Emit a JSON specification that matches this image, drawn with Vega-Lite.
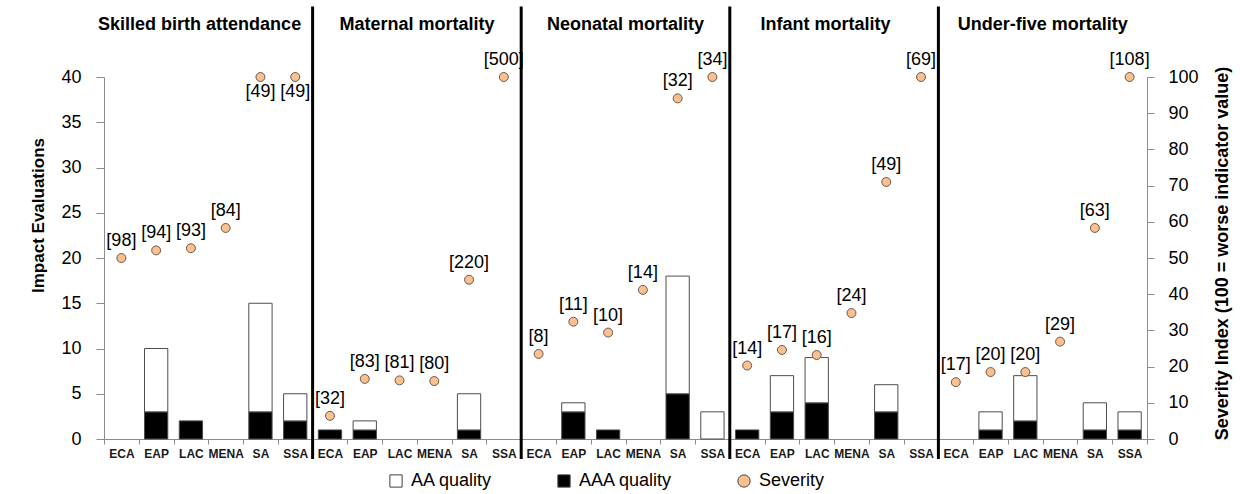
{
  "$schema": "https://vega.github.io/schema/vega-lite/v6.json",
  "width": 1043,
  "height": 362,
  "autosize": {"type": "none"},
  "padding": {"left": 104, "top": 77, "right": 93, "bottom": 55},
  "background": "white",
  "config": {
    "view": {"stroke": null},
    "font": "Liberation Sans",
    "axis": {"grid": false, "labelOverlap": false},
    "legend": {"labelFont": "Liberation Sans"}
  },
  "data": {
    "values": [
      {"ind": "Skilled birth attendance", "region": "ECA", "aaa": 0, "aa": 0, "sev": 50.0, "lab": "[98]"},
      {"ind": "Skilled birth attendance", "region": "EAP", "aaa": 3, "aa": 7, "sev": 52.1, "lab": "[94]"},
      {"ind": "Skilled birth attendance", "region": "LAC", "aaa": 2, "aa": 0, "sev": 52.7, "lab": "[93]"},
      {"ind": "Skilled birth attendance", "region": "MENA", "aaa": 0, "aa": 0, "sev": 58.3, "lab": "[84]"},
      {"ind": "Skilled birth attendance", "region": "SA", "aaa": 3, "aa": 12, "sev": 100, "lab": "[49]"},
      {"ind": "Skilled birth attendance", "region": "SSA", "aaa": 2, "aa": 3, "sev": 100, "lab": "[49]"},
      {"ind": "Maternal mortality", "region": "ECA", "aaa": 1, "aa": 0, "sev": 6.4, "lab": "[32]"},
      {"ind": "Maternal mortality", "region": "EAP", "aaa": 1, "aa": 1, "sev": 16.6, "lab": "[83]"},
      {"ind": "Maternal mortality", "region": "LAC", "aaa": 0, "aa": 0, "sev": 16.2, "lab": "[81]"},
      {"ind": "Maternal mortality", "region": "MENA", "aaa": 0, "aa": 0, "sev": 16.0, "lab": "[80]"},
      {"ind": "Maternal mortality", "region": "SA", "aaa": 1, "aa": 4, "sev": 44.0, "lab": "[220]"},
      {"ind": "Maternal mortality", "region": "SSA", "aaa": 0, "aa": 0, "sev": 100, "lab": "[500]"},
      {"ind": "Neonatal mortality", "region": "ECA", "aaa": 0, "aa": 0, "sev": 23.5, "lab": "[8]"},
      {"ind": "Neonatal mortality", "region": "EAP", "aaa": 3, "aa": 1, "sev": 32.4, "lab": "[11]"},
      {"ind": "Neonatal mortality", "region": "LAC", "aaa": 1, "aa": 0, "sev": 29.4, "lab": "[10]"},
      {"ind": "Neonatal mortality", "region": "MENA", "aaa": 0, "aa": 0, "sev": 41.2, "lab": "[14]"},
      {"ind": "Neonatal mortality", "region": "SA", "aaa": 5, "aa": 13, "sev": 94.1, "lab": "[32]"},
      {"ind": "Neonatal mortality", "region": "SSA", "aaa": 0, "aa": 3, "sev": 100, "lab": "[34]"},
      {"ind": "Infant mortality", "region": "ECA", "aaa": 1, "aa": 0, "sev": 20.3, "lab": "[14]"},
      {"ind": "Infant mortality", "region": "EAP", "aaa": 3, "aa": 4, "sev": 24.6, "lab": "[17]"},
      {"ind": "Infant mortality", "region": "LAC", "aaa": 4, "aa": 5, "sev": 23.2, "lab": "[16]"},
      {"ind": "Infant mortality", "region": "MENA", "aaa": 0, "aa": 0, "sev": 34.8, "lab": "[24]"},
      {"ind": "Infant mortality", "region": "SA", "aaa": 3, "aa": 3, "sev": 71.0, "lab": "[49]"},
      {"ind": "Infant mortality", "region": "SSA", "aaa": 0, "aa": 0, "sev": 100, "lab": "[69]"},
      {"ind": "Under-five mortality", "region": "ECA", "aaa": 0, "aa": 0, "sev": 15.7, "lab": "[17]"},
      {"ind": "Under-five mortality", "region": "EAP", "aaa": 1, "aa": 2, "sev": 18.5, "lab": "[20]"},
      {"ind": "Under-five mortality", "region": "LAC", "aaa": 2, "aa": 5, "sev": 18.5, "lab": "[20]"},
      {"ind": "Under-five mortality", "region": "MENA", "aaa": 0, "aa": 0, "sev": 26.9, "lab": "[29]"},
      {"ind": "Under-five mortality", "region": "SA", "aaa": 1, "aa": 3, "sev": 58.3, "lab": "[63]"},
      {"ind": "Under-five mortality", "region": "SSA", "aaa": 1, "aa": 2, "sev": 100, "lab": "[108]"}
    ]
  },
  "transform": [{"calculate": "datum.ind + '|' + datum.region", "as": "key"}],
  "layer": [
    {
      "layer": [
        {
          "transform": [
            {"fold": ["aaa", "aa"], "as": ["q", "n"]},
            {"filter": "datum.n > 0"}
          ],
          "mark": {"type": "bar", "width": {"band": 0.67}, "stroke": "#4d4d4d", "strokeWidth": 1},
          "encoding": {
            "x": {
              "field": "key", "type": "nominal",
              "scale": {
                "domain": [
                  "Skilled birth attendance|ECA", "Skilled birth attendance|EAP", "Skilled birth attendance|LAC", "Skilled birth attendance|MENA", "Skilled birth attendance|SA", "Skilled birth attendance|SSA",
                  "Maternal mortality|ECA", "Maternal mortality|EAP", "Maternal mortality|LAC", "Maternal mortality|MENA", "Maternal mortality|SA", "Maternal mortality|SSA",
                  "Neonatal mortality|ECA", "Neonatal mortality|EAP", "Neonatal mortality|LAC", "Neonatal mortality|MENA", "Neonatal mortality|SA", "Neonatal mortality|SSA",
                  "Infant mortality|ECA", "Infant mortality|EAP", "Infant mortality|LAC", "Infant mortality|MENA", "Infant mortality|SA", "Infant mortality|SSA",
                  "Under-five mortality|ECA", "Under-five mortality|EAP", "Under-five mortality|LAC", "Under-five mortality|MENA", "Under-five mortality|SA", "Under-five mortality|SSA"
                ],
                "paddingInner": 0, "paddingOuter": 0
              },
              "axis": {
                "title": null,
                "labelExpr": "split(datum.value, '|')[1]",
                "labelAngle": 0,
                "labelFontSize": 12,
                "labelFontWeight": "bold",
                "labelColor": "#1a1a1a",
                "labelPadding": 4,
                "tickBand": "extent",
                "tickSize": 5,
                "tickColor": "#8c8c8c",
                "domainColor": "#8c8c8c"
              }
            },
            "y": {
              "field": "n", "type": "quantitative", "stack": "zero",
              "scale": {"domain": [0, 40], "nice": false},
              "axis": {
                "orient": "left",
                "values": [0, 5, 10, 15, 20, 25, 30, 35, 40],
                "labelFontSize": 18,
                "labelColor": "#000000",
                "labelPadding": 15,
                "tickSize": 8,
                "tickColor": "#8c8c8c",
                "domainColor": "#8c8c8c",
                "title": "Impact Evaluations",
                "titleFontSize": 17,
                "titleFontWeight": "bold",
                "titleColor": "#000000",
                "titleAngle": -90,
                "titleX": -66,
                "titleY": 138,
                "titleBaseline": "middle"
              }
            },
            "color": {
              "field": "q", "type": "nominal",
              "scale": {"domain": ["aa", "aaa", "sev"], "range": ["#ffffff", "#000000", "#FAC090"]},
              "legend": {
                "orient": "none",
                "legendX": 283,
                "legendY": 395,
                "direction": "horizontal",
                "title": null,
                "labelExpr": "datum.value == 'aa' ? 'AA quality' : datum.value == 'aaa' ? 'AAA quality' : 'Severity'",
                "labelFontSize": 18,
                "labelColor": "#000000",
                "labelOffset": 6,
                "symbolSize": 150,
                "symbolType": "square",
                "symbolStrokeColor": "#404040",
                "symbolStrokeWidth": 1,
                "columnPadding": 62,
                "encode": {"symbols": {"update": {"shape": {"signal": "datum.value === 'sev' ? 'circle' : 'square'"}, "stroke": {"value": "#404040"}}}}
              }
            },
            "order": {"field": "q", "sort": "descending"}
          }
        },
        {
          "transform": [{"filter": "datum.region == 'ECA' && datum.ind != 'Skilled birth attendance'"}],
          "mark": {"type": "rule", "color": "#000000", "strokeWidth": 3},
          "encoding": {
            "x": {"field": "key", "type": "nominal", "bandPosition": 0},
            "y": {"datum": 47.8, "type": "quantitative"},
            "y2": {"datum": -2.2}
          }
        },
        {
          "transform": [{"filter": "datum.region == 'MENA' && datum.ind != 'Skilled birth attendance' && datum.ind != 'Infant mortality'"}],
          "mark": {"type": "text", "fontSize": 18, "fontWeight": "bold", "color": "#000000", "baseline": "middle", "align": "center"},
          "encoding": {
            "x": {"field": "key", "type": "nominal", "bandPosition": 0},
            "y": {"datum": 45.75, "type": "quantitative"},
            "text": {"field": "ind"}
          }
        },
        {
          "transform": [{"filter": "datum.region == 'LAC' && (datum.ind == 'Skilled birth attendance' || datum.ind == 'Infant mortality')"}],
          "mark": {"type": "text", "fontSize": 18, "fontWeight": "bold", "color": "#000000", "baseline": "middle", "align": "center"},
          "encoding": {
            "x": {"field": "key", "type": "nominal", "bandPosition": 0.75},
            "y": {"datum": 45.75, "type": "quantitative"},
            "text": {"field": "ind"}
          }
        }
      ]
    },
    {
      "encoding": {
        "x": {"field": "key", "type": "nominal"},
        "y": {
          "field": "sev", "type": "quantitative",
          "scale": {"domain": [0, 100], "nice": false},
          "axis": {
            "orient": "right",
            "values": [0, 10, 20, 30, 40, 50, 60, 70, 80, 90, 100],
            "tickCount": 11,
            "labelOverlap": false,
            "labelFontSize": 18,
            "labelColor": "#000000",
            "labelPadding": 14,
            "tickSize": 7,
            "tickColor": "#8c8c8c",
            "domainColor": "#8c8c8c",
            "title": "Severity Index (100 = worse indicator value)",
            "titleFontSize": 18,
            "titleFontWeight": "bold",
            "titleColor": "#000000",
            "titleAngle": -90,
            "titleX": 75,
            "titleY": 176,
            "titleBaseline": "middle"
          }
        }
      },
      "layer": [
        {
          "mark": {"type": "circle", "size": 80, "stroke": "#6b5846", "strokeWidth": 1, "opacity": 1},
          "encoding": {
            "color": {"datum": "sev", "type": "nominal"}
          }
        },
        {
          "transform": [{"filter": "!(datum.ind == 'Skilled birth attendance' && datum.sev >= 100)"}],
          "mark": {"type": "text", "fontSize": 18, "color": "#000000", "dy": -17, "baseline": "middle"},
          "encoding": {
            "text": {"field": "lab"}
          }
        },
        {
          "transform": [{"filter": "datum.ind == 'Skilled birth attendance' && datum.sev >= 100"}],
          "mark": {"type": "text", "fontSize": 18, "color": "#000000", "dy": 15, "baseline": "middle"},
          "encoding": {
            "text": {"field": "lab"}
          }
        }
      ]
    }
  ],
  "resolve": {"scale": {"y": "independent"}}
}
